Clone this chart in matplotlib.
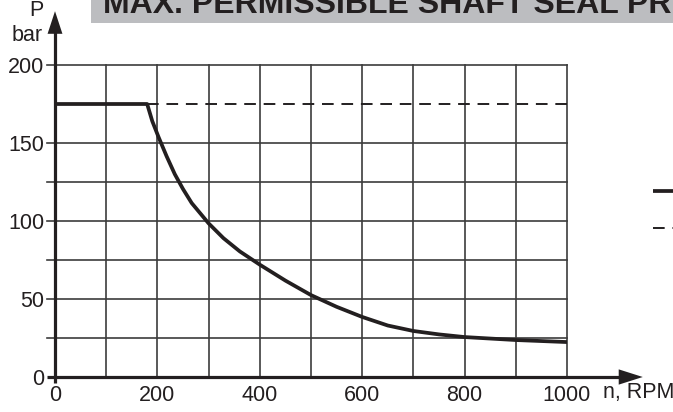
import matplotlib
matplotlib.use("Agg")
import matplotlib.pyplot as plt
from matplotlib.patches import Polygon, Rectangle
from matplotlib.lines import Line2D

plt.rcParams['font.family'] = ['Liberation Sans', 'DejaVu Sans']

# ---- data ----
rpm = [0, 180, 190, 202, 218, 234, 250, 267, 300, 329, 361, 400, 450, 500,
       550, 600, 650, 700, 750, 800, 900, 1000]
pressure = [175, 175, 164, 154, 141.5, 130, 120.5, 111.5, 98.5, 89, 80.5, 72,
            61.8, 52.5, 45, 38.5, 33, 29.5, 27.3, 25.6, 23.7, 22.4]
dash_rpm = [180, 1000]
dash_p = [175, 175]
xticks = [0, 200, 400, 600, 800, 1000]
yticks = [0, 50, 100, 150, 200]
xgrid = [100, 200, 300, 400, 500, 600, 700, 800, 900, 1000]
ygrid = [25, 50, 75, 100, 125, 150, 200]
title = "MAX. PERMISSIBLE SHAFT SEAL PR"

INK = '#231f20'
GRID = '#3c3c3c'
W, H = 673, 412

fig = plt.figure(figsize=(W / 100, H / 100), dpi=100)
fig.patch.set_facecolor('white')
ax = fig.add_axes([55 / W, (H - 377) / H, 512 / W, 312 / H])
ax.set_xlim(0, 1000)
ax.set_ylim(0, 200)
for s in ax.spines.values():
    s.set_visible(False)

# grid
for gx in xgrid:
    ax.plot([gx, gx], [0, 200], color=GRID, lw=1.2, zorder=1, clip_on=False)
for gy in ygrid:
    ax.plot([-16, 1000], [gy, gy], color=GRID, lw=1.2, zorder=1, clip_on=False)

# axes with arrows
ax.plot([0, 0], [-4, 221], color=INK, lw=2.3, zorder=3, clip_on=False, solid_capstyle='butt')
ax.plot([-16, 1102], [0, 0], color=INK, lw=2.3, zorder=3, clip_on=False, solid_capstyle='butt')
ax.add_patch(Polygon([(-14.5, 220), (14.5, 220), (0, 234.5)], closed=True,
                     color=INK, zorder=4, clip_on=False, lw=0))
ax.add_patch(Polygon([(1101, -4.9), (1101, 4.9), (1148, 0)], closed=True,
                     color=INK, zorder=4, clip_on=False, lw=0))

# curves
ax.plot(dash_rpm, dash_p, color=INK, lw=1.4, ls=(0, (6, 4)), zorder=3)
ax.plot(rpm, pressure, color=INK, lw=2.7, zorder=5, solid_joinstyle='round',
        solid_capstyle='butt')

# ticks
ax.set_xticks(xticks)
ax.set_xticklabels([str(v) for v in xticks])
ax.set_yticks(yticks)
ax.set_yticklabels([str(v) for v in yticks])
ax.tick_params(axis='both', length=0, labelsize=15.5, colors=INK)
ax.tick_params(axis='x', pad=5.5)
ax.tick_params(axis='y', pad=7.5)

# axis labels
ax.text(-37, 235, "P", fontsize=15.5, color=INK, ha='center', va='center', clip_on=False)
ax.text(-55, 219, "bar", fontsize=15.5, color=INK, ha='center', va='center', clip_on=False)
ax.text(1070, -13.5, "n, RPM", fontsize=15.5, color=INK, ha='left', va='baseline', clip_on=False)

# title banner (cut off at the top and right edges, as in the source)
fig.patches.append(Rectangle((91 / W, (H - 23) / H), (W - 91) / W, 23 / H,
                             transform=fig.transFigure, facecolor='#bcbdc0',
                             edgecolor='none', zorder=0))
fig.text(103 / W, (H - 13) / H, title, fontsize=23, fontweight='bold', color=INK,
         ha='left', va='baseline')

# legend stubs (cut off at right edge)
fig.add_artist(Line2D([653 / W, 1.0], [(H - 191) / H] * 2, transform=fig.transFigure,
                      color=INK, lw=2.7, solid_capstyle='butt'))
fig.add_artist(Line2D([653 / W, 1.0], [(H - 228) / H] * 2, transform=fig.transFigure,
                      color=INK, lw=1.4, ls=(0, (6, 4))))

fig.savefig("out.png", dpi=100)
